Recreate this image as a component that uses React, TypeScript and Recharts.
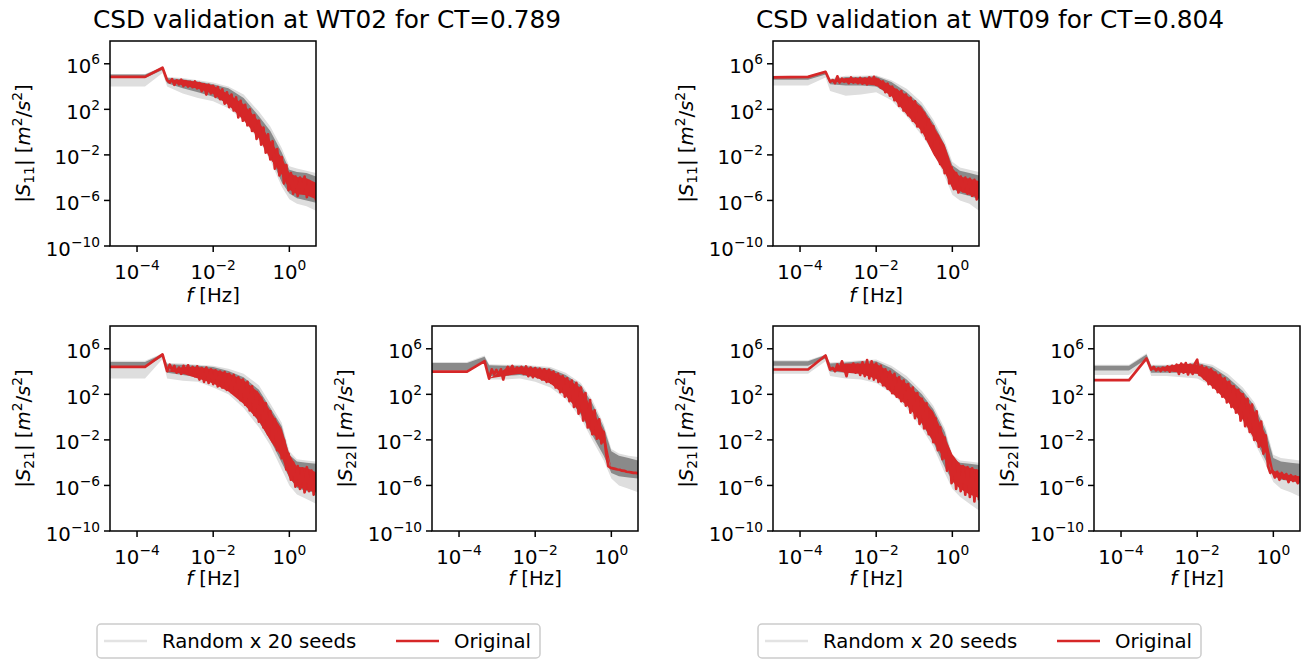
import React from "react";
import { ComposedChart, Line, Area, XAxis, YAxis } from "recharts";

// log10(f [Hz]) sampling of the "Original" spectra
const FREQ_EXP = [
  -4.71, -3.79, -3.33, -3.21,
  -3.14, -3.08, -3.02, -2.96, -2.9, -2.84, -2.78, -2.72, -2.66, -2.6,
  -2.54, -2.48, -2.42, -2.36, -2.3, -2.24, -2.18, -2.12, -2.06, -2.0,
  -1.94, -1.88, -1.82, -1.76, -1.7, -1.64, -1.58, -1.52, -1.46, -1.4,
  -1.34, -1.28, -1.22, -1.16, -1.1, -1.04, -0.98, -0.92, -0.86, -0.8,
  -0.74, -0.68, -0.62, -0.56, -0.5, -0.44, -0.38, -0.32, -0.26, -0.2,
  -0.14, -0.08, -0.02, 0.04, 0.1, 0.16, 0.22, 0.28, 0.34, 0.4,
  0.46, 0.52, 0.58, 0.64, 0.7,
];

// log10(f) where the spread of the curves was read
const BAND_FREQ_EXP = [-4.71, -3.79, -3.33, -3.21, -2.8, -2.4, -2.0, -1.6, -1.2, -0.8, -0.5, -0.2, 0.0, 0.2, 0.45, 0.7];

// log10 |S| [m2/s2], original signal
const RED_S11_WT02 = [
  4.85, 4.85, 5.65, 4.55,
  4.35, 4.65, 4.15, 4.55, 4.2, 4.6, 4.05, 4.45, 4.0, 4.4,
  3.95, 4.45, 3.85, 4.3, 3.6, 4.2, 3.3, 4.15, 3.4, 4.05,
  3.1, 3.95, 2.9, 3.75, 2.5, 3.5, 2.2, 3.3, 1.9, 3.05,
  1.3, 2.75, 1.0, 2.4, 0.6, 2.0, 0.1, 1.5, -0.6, 1.0,
  -1.1, 0.4, -1.8, -0.2, -2.4, -0.8, -3.2, -1.5, -3.8, -2.2,
  -4.5, -2.9, -5.1, -3.6, -5.4, -3.9, -5.6, -4.0, -5.3, -3.9,
  -5.7, -4.3, -5.5, -4.5, -6.0,
];
const RED_S21_WT02 = [
  4.41, 4.41, 5.5, 4.03,
  4.6, 4.15, 4.5, 3.9, 4.35, 3.8, 4.5, 4.0, 4.55, 3.85,
  4.4, 3.6, 4.45, 3.3, 4.3, 3.1, 4.35, 3.0, 4.2, 2.9,
  4.1, 2.7, 4.0, 2.6, 3.95, 2.4, 3.8, 2.2, 3.7, 1.9,
  3.5, 1.5, 3.3, 1.1, 3.1, 0.6, 2.7, 0.2, 2.2, -0.4,
  1.7, -0.9, 1.2, -1.5, 0.5, -2.1, -0.2, -2.9, -1.0, -3.6,
  -2.0, -4.6, -3.2, -5.5, -4.0, -6.1, -4.3, -6.3, -4.5, -6.6,
  -4.4, -6.5, -4.7, -6.8, -5.0,
];
const RED_S22_WT02 = [
  4.0, 4.0, 4.91, 3.38,
  4.2, 3.75, 4.15, 3.7, 4.2, 3.3, 4.05, 4.4, 4.1, 4.5,
  3.95, 4.35, 3.9, 4.4, 3.8, 4.45, 3.6, 4.35, 3.5, 4.3,
  3.5, 4.25, 3.3, 4.2, 3.1, 4.15, 3.0, 4.0, 2.6, 3.8,
  2.2, 3.6, 1.8, 3.4, 1.4, 3.2, 0.9, 3.0, 0.3, 2.6,
  -0.3, 2.1, -0.9, 1.5, -1.5, 0.6, -1.9, -0.2, -2.3, -1.3,
  -3.1, -4.3, -4.45, -4.5, -4.55, -4.6, -4.62, -4.7, -4.72, -4.8,
  -4.82, -4.85, -4.9, -4.9, -4.95,
];
const RED_S11_WT09 = [
  4.8, 4.85, 5.3, 4.42,
  4.56, 4.3, 4.9, 4.35, 4.7, 4.42, 4.6, 4.3, 4.8, 4.35,
  4.7, 4.3, 4.75, 4.25, 4.7, 4.2, 4.8, 4.3, 4.85, 4.15,
  4.6, 3.9, 4.45, 3.5, 4.25, 3.2, 4.0, 2.8, 3.7, 2.3,
  3.6, 1.9, 3.3, 1.5, 3.0, 1.0, 2.7, 0.5, 2.2, 0.0,
  1.7, -0.6, 1.1, -1.2, 0.5, -2.0, -0.3, -2.8, -1.1, -3.6,
  -2.2, -4.5, -3.1, -5.0, -3.6, -5.3, -3.9, -5.2, -4.0, -5.4,
  -4.1, -5.6, -4.2, -5.9, -4.4,
];
const RED_S21_WT09 = [
  4.18, 4.18, 5.41, 4.18,
  4.32, 4.03, 4.62, 4.18, 4.9, 4.32, 3.6, 4.5, 4.0, 4.7,
  3.9, 4.6, 3.7, 4.8, 3.6, 5.0, 3.4, 4.9, 3.3, 4.7,
  3.1, 4.5, 2.8, 4.2, 2.5, 4.0, 2.1, 3.8, 1.8, 3.5,
  1.4, 3.2, 1.0, 2.9, 0.4, 2.6, -0.1, 2.1, -0.6, 1.6,
  -1.0, 1.2, -1.5, 0.5, -2.2, -0.1, -2.9, -0.9, -3.7, -1.8,
  -4.7, -3.0, -5.8, -3.8, -6.3, -4.1, -6.5, -4.3, -6.8, -4.4,
  -7.0, -4.5, -7.4, -4.7, -7.3,
];
const RED_S22_WT09 = [
  3.24, 3.24, 5.15, 4.18,
  4.41, 4.1, 4.3, 4.05, 4.35, 4.1, 4.45, 4.0, 4.5, 4.1,
  4.6, 3.8, 4.7, 3.9, 4.75, 3.75, 4.6, 3.8, 4.7, 5.05,
  3.7, 4.5, 3.4, 4.35, 2.9, 4.2, 2.6, 3.9, 2.2, 3.7,
  1.8, 3.4, 1.3, 3.1, 0.9, 2.7, 0.4, 2.4, -0.3, 2.0,
  -0.8, 1.6, -1.3, 1.1, -2.0, 0.5, -2.6, -0.4, -3.2, -1.6,
  -4.3, -4.9, -4.7, -5.3, -4.8, -5.5, -4.9, -5.4, -5.0, -5.7,
  -5.1, -5.6, -5.2, -5.8, -5.3,
];

// log10 |S|, dense inner spread of the original's fluctuations
const RED_LO_S11_WT02 = [4.85, 4.85, 5.65, 4.55, 4.1, 3.8, 3.35, 2.35, 1.05, -0.55, -2.35, -3.75, -5.05, -5.45, -5.55, -5.9];
const RED_HI_S11_WT02 = [4.85, 4.85, 5.65, 4.55, 4.6, 4.4, 4.1, 3.35, 2.45, 0.95, -0.75, -2.25, -3.55, -3.95, -4.05, -4.45];
const RED_LO_S21_WT02 = [4.41, 4.41, 5.5, 4.03, 3.8, 3.4, 2.95, 2.25, 1.15, -0.35, -2.05, -3.55, -5.35, -6.1, -6.4, -6.6];
const RED_HI_S21_WT02 = [4.41, 4.41, 5.5, 4.03, 4.4, 4.4, 4.2, 3.85, 3.25, 2.15, 0.55, -1.05, -3.25, -4.35, -4.45, -4.85];
const RED_LO_S22_WT02 = [4.0, 4.0, 4.91, 3.38, 3.6, 3.8, 3.5, 2.95, 1.85, 0.35, -1.45, -2.3, -4.47, -4.6, -4.82, -4.95];
const RED_HI_S22_WT02 = [4.0, 4.0, 4.91, 3.38, 4.2, 4.4, 4.3, 4.1, 3.45, 2.55, 0.65, -1.2, -4.47, -4.6, -4.82, -4.95];
const RED_LO_S11_WT09 = [4.8, 4.85, 5.3, 4.42, 4.35, 4.25, 4.1, 3.15, 1.55, 0.05, -1.95, -3.55, -4.95, -5.2, -5.5, -5.8];
const RED_HI_S11_WT09 = [4.8, 4.85, 5.3, 4.42, 4.75, 4.75, 4.8, 4.05, 3.25, 2.15, 0.55, -1.15, -3.15, -3.9, -4.1, -4.3];
const RED_LO_S21_WT09 = [4.18, 4.18, 5.41, 4.18, 3.9, 3.8, 3.35, 2.15, 1.05, -0.55, -2.15, -3.75, -5.65, -6.3, -6.8, -7.1];
const RED_HI_S21_WT09 = [4.18, 4.18, 5.41, 4.18, 4.7, 4.7, 4.7, 3.85, 2.95, 1.65, 0.45, -1.75, -3.25, -4.15, -4.45, -4.65];
const RED_LO_S22_WT09 = [3.24, 3.24, 5.15, 4.18, 4.05, 3.9, 3.8, 2.65, 1.35, -0.25, -1.95, -3.15, -5.2, -5.4, -5.6, -5.7];
const RED_HI_S22_WT09 = [3.24, 3.24, 5.15, 4.18, 4.45, 4.7, 4.6, 4.15, 3.15, 2.05, 0.55, -1.55, -4.7, -4.9, -5.1, -5.2];

// log10 |S| spread of the 20 random seeds: dense core and faint outer fringe
const CORE_HI_S11_WT02 = [5.05, 5.05, 5.7, 4.75, 4.65, 4.45, 4.2, 3.85, 3.0, 1.4, 0.1, -1.8, -3.3, -3.5, -3.6, -3.9];
const CORE_LO_S11_WT02 = [4.75, 4.75, 5.45, 4.3, 3.85, 3.5, 3.1, 2.5, 1.4, -0.4, -2.1, -4.4, -5.4, -5.8, -6.0, -6.2];
const OUTER_HI_S11_WT02 = [5.1, 5.1, 5.75, 4.85, 4.75, 4.55, 4.35, 4.0, 3.3, 1.8, 0.5, -1.4, -3.0, -3.2, -3.4, -3.6];
const OUTER_LO_S11_WT02 = [4.0, 4.0, 5.2, 4.0, 3.4, 3.0, 2.7, 2.1, 1.0, -0.7, -2.5, -4.8, -5.9, -6.3, -6.5, -6.9];

const CORE_HI_S21_WT02 = [4.85, 4.85, 5.55, 4.65, 4.6, 4.5, 4.4, 4.05, 3.5, 2.4, 0.8, -0.8, -3.3, -3.9, -4.0, -4.1];
const CORE_LO_S21_WT02 = [4.4, 4.4, 5.3, 3.9, 3.7, 3.5, 3.0, 2.4, 1.3, -0.4, -2.0, -4.0, -5.3, -6.2, -6.5, -6.6];
const OUTER_HI_S21_WT02 = [4.95, 4.95, 5.6, 4.75, 4.7, 4.6, 4.5, 4.25, 3.8, 2.8, 1.2, -0.5, -3.0, -3.7, -3.8, -3.9];
const OUTER_LO_S21_WT02 = [3.4, 3.4, 5.1, 3.4, 3.2, 3.1, 2.6, 2.0, 0.8, -0.9, -2.5, -4.6, -6.0, -6.8, -7.2, -7.6];

const CORE_HI_S22_WT02 = [4.75, 4.75, 5.3, 4.55, 4.5, 4.5, 4.4, 4.25, 3.7, 2.8, 1.2, -0.9, -3.0, -3.4, -3.6, -3.8];
const CORE_LO_S22_WT02 = [4.1, 4.1, 4.9, 3.6, 3.6, 3.7, 3.5, 3.0, 2.0, 0.2, -1.6, -3.4, -4.9, -5.2, -5.3, -5.4];
const OUTER_HI_S22_WT02 = [4.85, 4.85, 5.4, 4.65, 4.6, 4.6, 4.5, 4.4, 3.9, 3.0, 1.5, -0.6, -2.8, -3.2, -3.4, -3.5];
const OUTER_LO_S22_WT02 = [4.0, 4.0, 4.8, 3.3, 3.3, 3.4, 3.1, 2.6, 1.6, -0.1, -2.0, -3.8, -5.4, -6.0, -6.3, -6.6];

const CORE_HI_S11_WT09 = [4.9, 4.9, 5.35, 4.6, 4.85, 4.85, 4.9, 4.4, 3.5, 2.3, 0.8, -1.1, -2.9, -3.4, -3.6, -3.8];
const CORE_LO_S11_WT09 = [4.6, 4.6, 5.05, 4.2, 4.1, 4.1, 4.0, 3.2, 1.9, 0.2, -1.3, -3.4, -4.9, -5.4, -5.6, -5.9];
const OUTER_HI_S11_WT09 = [4.95, 4.95, 5.4, 4.7, 4.95, 4.95, 5.0, 4.55, 3.8, 2.6, 1.1, -0.8, -2.6, -3.1, -3.3, -3.5];
const OUTER_LO_S11_WT09 = [4.1, 4.1, 4.8, 3.6, 3.2, 3.3, 3.5, 2.8, 1.4, -0.3, -1.8, -3.9, -5.5, -6.0, -6.3, -6.9];

const CORE_HI_S21_WT09 = [4.9, 4.9, 5.45, 4.7, 4.8, 4.9, 4.9, 4.3, 3.3, 2.0, 0.7, -1.3, -3.6, -4.0, -4.1, -4.2];
const CORE_LO_S21_WT09 = [4.5, 4.5, 5.15, 4.0, 3.9, 3.8, 3.4, 2.5, 1.2, -0.6, -2.2, -4.4, -5.6, -6.2, -6.6, -6.9];
const OUTER_HI_S21_WT09 = [5.0, 5.0, 5.5, 4.8, 4.9, 5.0, 5.05, 4.5, 3.6, 2.3, 1.0, -1.0, -3.3, -3.8, -3.9, -4.0];
const OUTER_LO_S21_WT09 = [3.8, 3.8, 4.9, 3.6, 3.4, 3.3, 3.0, 2.1, 0.8, -1.0, -2.6, -4.9, -6.3, -7.0, -7.6, -8.2];

const CORE_HI_S22_WT09 = [4.5, 4.5, 5.5, 4.5, 4.5, 4.6, 4.75, 4.4, 3.5, 2.3, 1.0, -1.2, -3.6, -3.9, -4.0, -4.1];
const CORE_LO_S22_WT09 = [4.1, 4.1, 5.1, 3.9, 3.9, 3.9, 3.8, 3.1, 1.9, 0.0, -1.8, -3.8, -5.2, -5.5, -5.6, -5.8];
const OUTER_HI_S22_WT09 = [4.6, 4.6, 5.6, 4.6, 4.6, 4.7, 4.85, 4.6, 3.8, 2.6, 1.3, -0.9, -3.3, -3.6, -3.7, -3.8];
const OUTER_LO_S22_WT09 = [3.7, 3.7, 4.9, 3.6, 3.6, 3.5, 3.4, 2.7, 1.5, -0.4, -2.2, -4.2, -5.7, -6.3, -6.6, -7.0];

const X_TICKS = [1e-4, 1e-2, 1];
const Y_TICKS = [1e-10, 1e-6, 1e-2, 1e2, 1e6];

const FONT = '"DejaVu Sans", sans-serif';
const RED = "#d62728";
const FS = 19.7;
const FS_SUP = 13.8;
const PW = 206;
const PH = 205;

const toLine = (vals: number[]) => FREQ_EXP.map((e, i) => ({ f: 10 ** e, s: 10 ** vals[i] }));
const toBand = (lo: number[], hi: number[]) =>
  BAND_FREQ_EXP.map((e, i) => ({ f: 10 ** e, band: [10 ** lo[i], 10 ** hi[i]] }));

const PANELS = [
  { id: "a", left: 110, top: 41, xl: 56, sub: "11", red: RED_S11_WT02, redBand: [RED_LO_S11_WT02, RED_HI_S11_WT02], core: [CORE_LO_S11_WT02, CORE_HI_S11_WT02], outer: [OUTER_LO_S11_WT02, OUTER_HI_S11_WT02] },
  { id: "b", left: 110, top: 326, xl: 54, sub: "21", red: RED_S21_WT02, redBand: [RED_LO_S21_WT02, RED_HI_S21_WT02], core: [CORE_LO_S21_WT02, CORE_HI_S21_WT02], outer: [OUTER_LO_S21_WT02, OUTER_HI_S21_WT02] },
  { id: "c", left: 432, top: 326, xl: 54, sub: "22", red: RED_S22_WT02, redBand: [RED_LO_S22_WT02, RED_HI_S22_WT02], core: [CORE_LO_S22_WT02, CORE_HI_S22_WT02], outer: [OUTER_LO_S22_WT02, OUTER_HI_S22_WT02] },
  { id: "d", left: 773, top: 41, xl: 56, sub: "11", red: RED_S11_WT09, redBand: [RED_LO_S11_WT09, RED_HI_S11_WT09], core: [CORE_LO_S11_WT09, CORE_HI_S11_WT09], outer: [OUTER_LO_S11_WT09, OUTER_HI_S11_WT09] },
  { id: "e", left: 773, top: 326, xl: 54, sub: "21", red: RED_S21_WT09, redBand: [RED_LO_S21_WT09, RED_HI_S21_WT09], core: [CORE_LO_S21_WT09, CORE_HI_S21_WT09], outer: [OUTER_LO_S21_WT09, OUTER_HI_S21_WT09] },
  { id: "f", left: 1094, top: 326, xl: 54, sub: "22", red: RED_S22_WT09, redBand: [RED_LO_S22_WT09, RED_HI_S22_WT09], core: [CORE_LO_S22_WT09, CORE_HI_S22_WT09], outer: [OUTER_LO_S22_WT09, OUTER_HI_S22_WT09] },
];

const TITLES = [
  { x: 93, text: "CSD validation at WT02 for CT=0.789" },
  { x: 756, text: "CSD validation at WT09 for CT=0.804" },
];
const LEGENDS = [{ x: 97 }, { x: 758 }];

function expLabel(v: number) {
  const e = Math.round(Math.log10(v));
  return e < 0 ? "\u2212" + -e : String(e);
}

function XTick({ x, y, payload }: any) {
  return (
    <text x={x} y={y + 22.5} textAnchor="middle" fontFamily={FONT} fontSize={FS} fill="#000">
      10<tspan dy={-9} fontSize={FS_SUP}>{expLabel(payload.value)}</tspan>
    </text>
  );
}

function YTick({ x, y, payload }: any) {
  return (
    <text x={x} y={y + 9.5} textAnchor="end" fontFamily={FONT} fontSize={FS} fill="#000">
      10<tspan dy={-9} fontSize={FS_SUP}>{expLabel(payload.value)}</tspan>
    </text>
  );
}

function Panel({ p }: any) {
  return (
    <div style={{ position: "absolute", left: p.left - 100, top: p.top - 10 }}>
      <ComposedChart width={PW + 110} height={PH + 55} margin={{ top: 10, right: 10, bottom: 0, left: 0 }}>
        <XAxis
          type="number"
          dataKey="f"
          scale="log"
          domain={[10 ** -4.71, 10 ** 0.7]}
          ticks={X_TICKS}
          allowDataOverflow
          axisLine={false}
          tickLine={{ stroke: "#000", strokeWidth: 1.5 }}
          tickSize={6}
          tickMargin={4}
          height={45}
          tick={<XTick />}
        />
        <YAxis
          type="number"
          scale="log"
          domain={[1e-10, 1e8]}
          ticks={Y_TICKS}
          allowDataOverflow
          axisLine={false}
          tickLine={{ stroke: "#000", strokeWidth: 1.5 }}
          tickSize={6}
          tickMargin={4}
          width={100}
          tick={<YTick />}
        />
        <Area data={toBand(p.outer[0], p.outer[1])} dataKey="band" type="linear" stroke="none" fill="#dedede" fillOpacity={1} isAnimationActive={false} />
        <Area data={toBand(p.core[0], p.core[1])} dataKey="band" type="linear" stroke="none" fill="#8a8a8a" fillOpacity={1} isAnimationActive={false} />
        <Area data={toBand(p.redBand[0], p.redBand[1])} dataKey="band" type="linear" stroke="none" fill={RED} fillOpacity={1} isAnimationActive={false} />
        <Line data={toLine(p.red)} dataKey="s" type="linear" stroke={RED} strokeWidth={2.7} strokeLinejoin="round" dot={false} isAnimationActive={false} />
      </ComposedChart>
    </div>
  );
}

function YLabel({ cx, cy, sub }: any) {
  return (
    <text x={cx} y={cy} transform={`rotate(-90 ${cx} ${cy})`} textAnchor="middle" fontFamily={FONT} fontSize={FS} fill="#000">
      |<tspan fontStyle="italic">S</tspan>
      <tspan fontSize={FS_SUP} dy={4}>{sub}</tspan>
      <tspan dy={-4}>{"| ["}</tspan>
      <tspan fontStyle="italic">m</tspan>
      <tspan fontSize={FS_SUP} dy={-8}>2</tspan>
      <tspan dy={8}>/</tspan>
      <tspan fontStyle="italic">s</tspan>
      <tspan fontSize={FS_SUP} dy={-8}>2</tspan>
      <tspan dy={8}>]</tspan>
    </text>
  );
}

export default function App() {
  return (
    <div style={{ position: "absolute", left: 0, top: 0, width: 1304, height: 659, background: "#fff", fontFamily: FONT }}>
      {PANELS.map((p) => (
        <Panel key={p.id} p={p} />
      ))}
      <svg width={1304} height={659} style={{ position: "absolute", left: 0, top: 0, pointerEvents: "none" }}>
        {PANELS.map((p) => (
          <g key={p.id}>
            <rect x={p.left} y={p.top} width={PW} height={PH} fill="none" stroke="#000" strokeWidth={1.5} />
            <YLabel cx={p.left - 80} cy={p.top + PH / 2} sub={p.sub} />
            <text x={p.left + PW / 2} y={p.top + PH + p.xl} textAnchor="middle" fontFamily={FONT} fontSize={FS} fill="#000">
              <tspan fontStyle="italic">f</tspan> [Hz]
            </text>
          </g>
        ))}
        {TITLES.map((t) => (
          <text key={t.x} x={t.x} y={28} fontFamily={FONT} fontSize={24.8} fill="#000">
            {t.text}
          </text>
        ))}
        {LEGENDS.map((l) => (
          <g key={l.x}>
            <rect x={l.x} y={624} width={443} height={34} rx={4} fill="#fff" stroke="#cccccc" strokeWidth={1.5} />
            <line x1={l.x + 7} x2={l.x + 50} y1={641} y2={641} stroke="#e3e3e3" strokeWidth={2.7} />
            <text x={l.x + 65} y={648} fontFamily={FONT} fontSize={FS} fill="#000">Random x 20 seeds</text>
            <line x1={l.x + 299} x2={l.x + 342} y1={641} y2={641} stroke={RED} strokeWidth={2.7} />
            <text x={l.x + 357} y={648} fontFamily={FONT} fontSize={FS} fill="#000">Original</text>
          </g>
        ))}
      </svg>
    </div>
  );
}
